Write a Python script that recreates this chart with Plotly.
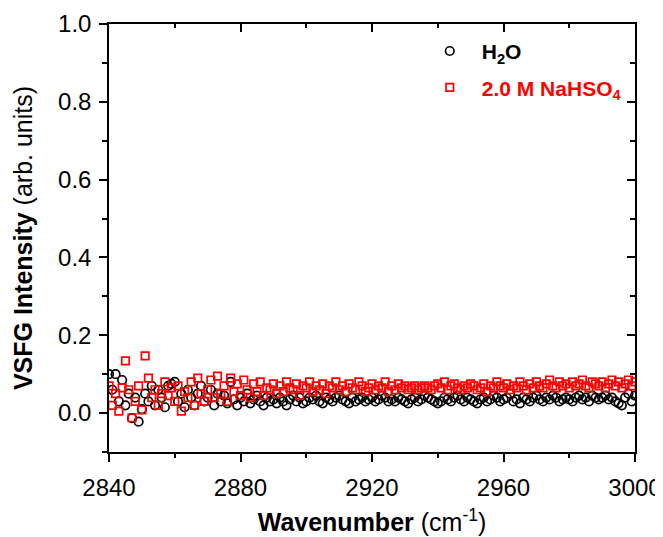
import plotly.graph_objects as go

wavenumber = list(range(2840, 3001))

h2o = [
    0.10, 0.06, 0.10, 0.03, 0.085, 0.02, 0.05, -0.013, 0.04, -0.022,
    0.01, 0.05, 0.03, 0.07, 0.02, 0.06, 0.04, 0.015, 0.07, 0.075,
    0.08, 0.03, 0.05, 0.015, 0.06, 0.04, 0.02, 0.05, 0.07, 0.03,
    0.04, 0.06, 0.02, 0.05, 0.03, 0.045, 0.025, 0.08, 0.035, 0.02,
    0.04, 0.03, 0.05, 0.025, 0.035, 0.045, 0.03, 0.02, 0.04, 0.03,
    0.035, 0.025, 0.04, 0.03, 0.02, 0.035, 0.045, 0.03, 0.04, 0.025,
    0.03, 0.04, 0.035, 0.045, 0.03, 0.025, 0.04, 0.035, 0.03, 0.04,
    0.045, 0.035, 0.03, 0.025, 0.04, 0.03, 0.035, 0.04, 0.03, 0.035,
    0.04, 0.03, 0.035, 0.045, 0.04, 0.03, 0.035, 0.03, 0.04, 0.035,
    0.03, 0.025, 0.035, 0.04, 0.03, 0.035, 0.045, 0.04, 0.035, 0.03,
    0.025, 0.03, 0.04, 0.035, 0.03, 0.04, 0.045, 0.035, 0.03, 0.04,
    0.035, 0.03, 0.025, 0.035, 0.04, 0.03, 0.035, 0.045, 0.04, 0.03,
    0.035, 0.04, 0.05, 0.03, 0.035, 0.025, 0.04, 0.035, 0.03, 0.04,
    0.045, 0.035, 0.03, 0.04, 0.035, 0.045, 0.04, 0.03, 0.035, 0.04,
    0.035, 0.03, 0.04, 0.045, 0.035, 0.04, 0.03, 0.045, 0.04, 0.035,
    0.04, 0.045, 0.035, 0.04, 0.03, 0.025, 0.02, 0.04, 0.05, 0.03,
    0.045,
]

nahso4 = [
    0.07, 0.02, 0.05, 0.005, 0.065, 0.134, 0.06, -0.012, 0.03, 0.07,
    0.008, 0.147, 0.09, 0.04, 0.06, 0.02, 0.05, 0.08, 0.045, 0.065,
    0.03, 0.07, 0.005, 0.055, 0.04, 0.08, 0.02, 0.09, 0.05, 0.03,
    0.06, 0.085, 0.04, 0.095, 0.05, 0.07, 0.03, 0.09, 0.055, 0.075,
    0.045, 0.085, 0.06, 0.04, 0.075, 0.055, 0.08, 0.045, 0.065, 0.06,
    0.075, 0.05, 0.07, 0.055, 0.08, 0.065, 0.06, 0.075, 0.045, 0.07,
    0.065, 0.08, 0.055, 0.07, 0.06, 0.075, 0.05, 0.07, 0.065, 0.08,
    0.06, 0.07, 0.055, 0.075, 0.065, 0.06, 0.08, 0.07, 0.055, 0.065,
    0.075, 0.06, 0.07, 0.065, 0.08, 0.055, 0.07, 0.06, 0.075, 0.065,
    0.07, 0.06, 0.065, 0.07, 0.06, 0.065, 0.07, 0.065, 0.06, 0.07,
    0.075, 0.065, 0.08, 0.06, 0.07, 0.075, 0.065, 0.06, 0.07, 0.065,
    0.075, 0.07, 0.06, 0.065, 0.075, 0.055, 0.07, 0.065, 0.08, 0.07,
    0.065, 0.075, 0.06, 0.07, 0.065, 0.08, 0.07, 0.06, 0.075, 0.065,
    0.08, 0.07, 0.065, 0.075, 0.085, 0.07, 0.065, 0.08, 0.07, 0.075,
    0.065, 0.08, 0.07, 0.075, 0.085, 0.07, 0.065, 0.08, 0.075, 0.07,
    0.08, 0.065, 0.075, 0.085, 0.07, 0.08, 0.065, 0.075, 0.085, 0.07,
    0.08,
]

series_names = ["<b>H<sub>2</sub>O</b>",
                "<b><span style='color:#ff0000'>2.0 M NaHSO<sub>4</sub></span></b>"]

x_ticks = [2840, 2880, 2920, 2960, 3000]
y_ticks = [0.0, 0.2, 0.4, 0.6, 0.8, 1.0]
x_range = [2840, 3000]
y_range = [-0.1, 1.0]

fig = go.Figure()
fig.add_trace(go.Scatter(
    x=wavenumber, y=h2o, mode="markers", name=series_names[0], legendgroup="a",
    marker=dict(symbol="circle-open", size=8.5, color="black", line=dict(width=1.7)),
))
fig.add_trace(go.Scatter(
    x=wavenumber, y=nahso4, mode="markers", name=series_names[1], legendgroup="b",
    marker=dict(symbol="square-open", size=7.5, color="#ff0000", line=dict(width=1.7)),
))
# invisible trace to anchor mirrored axes (inside ticks on top/right)
fig.add_trace(go.Scatter(x=x_range, y=y_range, xaxis="x2", yaxis="y2",
                         mode="markers", marker=dict(opacity=0), showlegend=False,
                         hoverinfo="skip"))

font_family = "Liberation Sans, Arial, sans-serif"

fig.update_layout(
    width=655, height=529,
    margin=dict(l=101, r=28, t=16, b=85),
    paper_bgcolor="white", plot_bgcolor="white",
    font=dict(family=font_family, size=24, color="black"),
    showlegend=True,
    legend=dict(x=0.587, y=0.984, xanchor="left", yanchor="top",
                bgcolor="rgba(0,0,0,0)", font=dict(size=21, color="black"),
                itemwidth=54, tracegroupgap=6),
    xaxis=dict(
        range=x_range, tickvals=x_ticks, ticks="outside", ticklen=8, tickwidth=1.5,
        tickcolor="black", showline=True, linecolor="black", linewidth=1.5,
        showgrid=False, zeroline=False, automargin=False, ticklabelstandoff=5,
        minor=dict(dtick=20, tick0=2840, ticks="outside", ticklen=4, tickwidth=1.5, tickcolor="black"),
        title=dict(text="<b>Wavenumber</b> (cm<sup>-1</sup>)", font=dict(size=25), standoff=14),
        tickfont=dict(size=24),
    ),
    yaxis=dict(
        range=y_range, tickvals=y_ticks, tickformat=".1f", ticks="outside", ticklen=8,
        tickwidth=1.5, tickcolor="black", showline=True, linecolor="black", linewidth=1.5,
        showgrid=False, zeroline=False, automargin=False, ticklabelstandoff=3,
        minor=dict(dtick=0.1, tick0=0, ticks="outside", ticklen=5, tickwidth=1.5, tickcolor="black"),
        title=dict(text="<b>VSFG Intensity</b> (arb. units)", font=dict(size=25), standoff=18),
        tickfont=dict(size=24),
    ),
    xaxis2=dict(
        range=x_range, overlaying="x", side="top", anchor="y2", tickvals=x_ticks,
        ticks="inside", ticklen=8, tickwidth=1.5, tickcolor="black", showticklabels=False,
        showline=True, linecolor="black", linewidth=1.5, showgrid=False, zeroline=False,
        automargin=False,
        minor=dict(dtick=20, tick0=2840, ticks="inside", ticklen=4, tickwidth=1.5, tickcolor="black"),
    ),
    yaxis2=dict(
        range=y_range, overlaying="y", side="right", anchor="x2", tickvals=y_ticks,
        ticks="inside", ticklen=8, tickwidth=1.5, tickcolor="black", showticklabels=False,
        showline=True, linecolor="black", linewidth=1.5, showgrid=False, zeroline=False,
        automargin=False,
        minor=dict(dtick=0.1, tick0=0, ticks="inside", ticklen=5, tickwidth=1.5, tickcolor="black"),
    ),
)

fig.write_html("out.html")
